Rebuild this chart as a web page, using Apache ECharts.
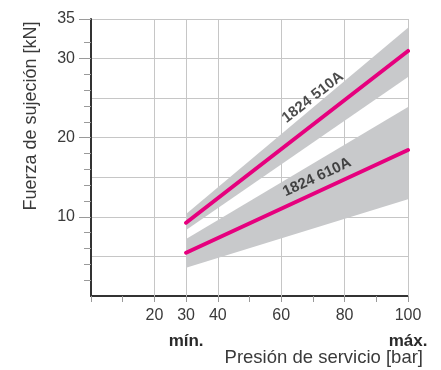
<!DOCTYPE html>
<html><head><meta charset="utf-8">
<script src="https://cdn.jsdelivr.net/npm/echarts@6/dist/echarts.min.js"></script>
<style>html,body{margin:0;padding:0;background:#fff}#c{width:441px;height:370px}</style>
</head><body><div id="c"></div>
<script>
// ---- data ----
const pressure = [30, 100];
const force510 = [9.26, 30.96];
const upper510 = [10.36, 33.9];
const lower510 = [8.34, 27.67];
const force610 = [5.47, 18.45];
const upper610 = [7.2, 23.88];
const lower610 = [3.58, 12.22];
const seriesNames = ['1824 510A', '1824 610A'];
const labelAnchors = [[70, 25.1], [71.3, 15.0]];
const xTickLabels = [20, 30, 40, 60, 80, 100];
const xGridValues = [20, 30, 40, 60, 80, 100];
const xLimitValues = [30, 100];
const xLimitLabels = ['mín.', 'máx.'];
const yTickLabels = [10, 20, 30, 35];
const yMinorTicks = [2, 4, 6, 8, 12, 14, 16, 18, 22, 24, 26, 28, 32];

const FONT = 'Liberation Sans, Arial, Helvetica, sans-serif';
const GRID = '#c6c6c6';
const BAND = '#c8c9cb';
const PINK = '#e6007e';
const TICK = '#9a9a9a';
const AXIS = '#333333';
const TXT = '#3a3a3a';

const pairs = (xs, ys) => xs.map((x, i) => [x, ys[i]]);

function bandSeries(upper, lower) {
  return {
    type: 'custom', silent: true, z: 3, clip: false,
    data: [[pressure[0], lower[0]]],
    encode: {x: 0, y: 1},
    renderItem: (params, api) => {
      const pts = [];
      for (let i = 0; i < pressure.length; i++) pts.push(api.coord([pressure[i], upper[i]]));
      for (let i = pressure.length - 1; i >= 0; i--) pts.push(api.coord([pressure[i], lower[i]]));
      return {type: 'polygon', shape: {points: pts}, style: {fill: BAND}};
    }
  };
}

const chart = echarts.init(document.getElementById('c'), null, {renderer: 'canvas'});
chart.setOption({
  animation: false,
  backgroundColor: '#fff',
  textStyle: {fontFamily: FONT},
  grid: {left: 91, top: 19, width: 317, height: 277, containLabel: false},
  xAxis: [
    {type: 'value', min: 0, max: 100, interval: 10, position: 'bottom',
     axisLine: {show: true, onZero: false, lineStyle: {color: AXIS, width: 2}},
     axisTick: {show: true, length: 6, lineStyle: {color: TICK, width: 1}},
     axisLabel: {show: true, customValues: xTickLabels, margin: 12, fontSize: 16, color: TXT, fontFamily: FONT},
     splitLine: {show: false}},
    {type: 'value', min: 0, max: 100, position: 'bottom',
     axisLine: {show: false}, axisTick: {show: false}, splitLine: {show: false},
     axisLabel: {show: true, customValues: xLimitValues, margin: 37, fontSize: 17, fontWeight: 'bold', color: '#2a2a2a', fontFamily: FONT,
       formatter: v => xLimitLabels[xLimitValues.indexOf(v)] || ''}}
  ],
  yAxis: [
    {type: 'value', min: 0, max: 35, interval: 5, position: 'left',
     axisLine: {show: false}, axisTick: {show: false}, axisLabel: {show: false},
     splitLine: {show: true, lineStyle: {color: GRID, width: 1}}},
    {type: 'value', min: 0, max: 35, position: 'left',
     axisLine: {show: true, onZero: false, lineStyle: {color: AXIS, width: 2}},
     axisTick: {show: true, customValues: yMinorTicks, length: 7, lineStyle: {color: TICK, width: 1}},
     axisLabel: {show: false}, splitLine: {show: false}},
    {type: 'value', min: 0, max: 35, position: 'left',
     axisLine: {show: false},
     axisTick: {show: true, customValues: yTickLabels, length: 12, lineStyle: {color: TICK, width: 1}},
     axisLabel: {show: true, customValues: yTickLabels, margin: 16, fontSize: 16, color: TXT, fontFamily: FONT},
     splitLine: {show: false}}
  ],
  graphic: [
    {type: 'text', x: 31, y: 116, rotation: Math.PI / 2,
     style: {text: 'Fuerza de sujeción [kN]', fontSize: 18, fontFamily: FONT, fill: TXT, align: 'center', verticalAlign: 'middle'}},
    {type: 'text', x: 423, y: 358,
     style: {text: 'Presión de servicio [bar]', fontSize: 18.5, fontFamily: FONT, fill: TXT, align: 'right', verticalAlign: 'middle'}}
  ],
  series: [
    {type: 'line', data: [], z: 1, silent: true,
     markLine: {silent: true, z: 1, symbol: 'none', animation: false, label: {show: false},
       lineStyle: {color: GRID, width: 1, type: 'solid'},
       data: xGridValues.map(v => ({xAxis: v}))}},
    bandSeries(upper510, lower510),
    bandSeries(upper610, lower610),
    {type: 'line', name: seriesNames[0], data: pairs(pressure, force510), symbol: 'none', z: 4,
     lineStyle: {color: PINK, width: 4, cap: 'round'}},
    {type: 'line', name: seriesNames[1], data: pairs(pressure, force610), symbol: 'none', z: 4,
     lineStyle: {color: PINK, width: 4, cap: 'round'}},
    {type: 'scatter', symbolSize: 0, z: 5, silent: true,
     data: [
       {value: labelAnchors[0], label: {rotate: 38, formatter: seriesNames[0]}},
       {value: labelAnchors[1], label: {rotate: 25, formatter: seriesNames[1]}}
     ],
     label: {show: true, position: 'inside', fontSize: 15, fontWeight: 'bold', color: '#1e1e1e', fontFamily: FONT}}
  ]
});
</script>
</body></html>
